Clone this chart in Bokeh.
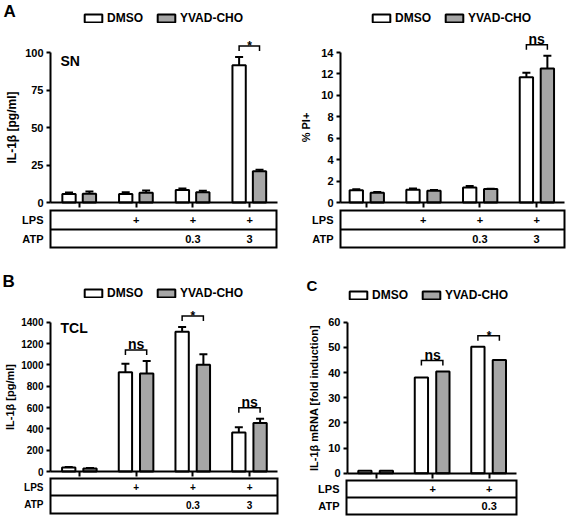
from bokeh.plotting import figure
from bokeh.models import (Range1d, LinearAxis, FixedTicker, Whisker, TeeHead,
                          ColumnDataSource, Legend, LegendItem)
from bokeh.layouts import column, row
from bokeh.embed import file_html
from bokeh.resources import INLINE
from bokeh.core.properties import value

# ---------------- data ----------------
series_names = ["DMSO", "YVAD-CHO"]

# Panel A (left): IL-1beta in supernatant (SN)
lps_A = ["", "+", "+", "+"]
atp_A = ["", "", "0.3", "3"]
sn_dmso = [5.6, 5.6, 8.3, 91.5]
sn_dmso_err = [1.0, 1.3, 1.0, 5.5]
sn_yvad = [5.8, 6.5, 6.8, 20.8]
sn_yvad_err = [1.6, 1.5, 1.0, 1.0]
sn_sig = ["", "", "", "*"]
sn_ticks = [0, 25, 50, 75, 100]

# Panel A (right): % PI+
pi_dmso = [1.15, 1.2, 1.4, 11.7]
pi_dmso_err = [0.08, 0.1, 0.15, 0.4]
pi_yvad = [0.92, 1.1, 1.25, 12.5]
pi_yvad_err = [0.07, 0.06, 0.04, 1.2]
pi_sig = ["", "", "", "ns"]
pi_ticks = [0, 2, 4, 6, 8, 10, 12, 14]

# Panel B: IL-1beta in total cell lysate (TCL)
tcl_dmso = [38, 930, 1310, 365]
tcl_dmso_err = [5, 80, 45, 50]
tcl_yvad = [28, 920, 1000, 455]
tcl_yvad_err = [4, 115, 100, 40]
tcl_sig = ["", "ns", "*", "ns"]
tcl_ticks = [0, 200, 400, 600, 800, 1000, 1200, 1400]

# Panel C: IL-1beta mRNA
lps_C = ["", "+", "+"]
atp_C = ["", "", "0.3"]
mrna_dmso = [1.0, 38.0, 50.2]
mrna_yvad = [1.0, 40.4, 45.0]
mrna_sig = ["", "ns", "*"]
mrna_ticks = [0, 10, 20, 30, 40, 50, 60]

# ---------------- style ----------------
FONT = "Liberation Sans"
S = 1.0
GRAY = "#a6a6a6"


def panel(cfg, dmso, dmso_err, yvad, yvad_err, sig, lps, atp, ticks):
    qx0, qy0, qx1, qy1 = cfg["quad"]
    W = round((qx1 - qx0) * S)
    H = round((qy1 - qy0) * S)
    x1, dx, y0, k = cfg["x1"], cfg["dx"], cfg["y0"], cfg["k"]

    def gx(rx):
        return 1 + (rx - x1) / dx

    def vy(ry):
        return (y0 - ry) / k

    p = figure(width=W, height=H,
               x_range=Range1d(gx(qx0), gx(qx1)),
               y_range=Range1d(vy(qy1), vy(qy0)),
               x_axis_type=None, y_axis_type=None,
               toolbar_location=None, output_backend="svg",
               min_border=0, outline_line_color=None)
    p.background_fill_color = "white"
    p.border_fill_color = "white"
    p.extra_x_ranges = {"px": Range1d(qx0, qx1)}
    p.extra_y_ranges = {"px": Range1d(qy1, qy0)}

    n = len(dmso)
    groups = list(range(1, n + 1))
    ow, og, bw = cfg["offs"]
    xw = [g + ow for g in groups]
    xg = [g + og for g in groups]

    rw = p.vbar(x=xw, top=dmso, bottom=0, width=bw, fill_color="white",
                line_color="black", line_width=2)
    rg = p.vbar(x=xg, top=yvad, bottom=0, width=bw, fill_color=GRAY,
                line_color="black", line_width=2)

    for xs, vals, errs in ((xw, dmso, dmso_err), (xg, yvad, yvad_err)):
        if errs is None:
            continue
        src = ColumnDataSource(dict(x=xs,
                                    lo=[v - e for v, e in zip(vals, errs)],
                                    hi=[v + e for v, e in zip(vals, errs)]))
        p.add_layout(Whisker(source=src, base="x", lower="lo", upper="hi",
                             line_width=2, line_color="black",
                             upper_head=TeeHead(size=8, line_width=2),
                             lower_head=TeeHead(size=8, line_width=2)))

    # significance brackets
    bx, by, st_x, st_y, ns_x, ns_y = [], [], [], [], [], []
    for i, s in enumerate(sig):
        if not s:
            continue
        ew = dmso_err[i] if dmso_err else 0
        eg = yvad_err[i] if yvad_err else 0
        top = max(dmso[i] + ew, yvad[i] + eg)
        yb = top + 11 / k
        leg = 5 / k
        bx.append([xw[i], xw[i], xg[i], xg[i]])
        by.append([yb - leg, yb, yb, yb - leg])
        if s == "*":
            st_x.append(groups[i]); st_y.append(yb)
        else:
            ns_x.append(groups[i]); ns_y.append(yb)
    if bx:
        p.multi_line(xs=bx, ys=by, line_color="black", line_width=1.5,
                     line_join="miter")
    if st_x:
        p.text(x=st_x, y=st_y, text=["*"] * len(st_x), text_align="center",
               text_baseline="alphabetic", y_offset=0,
               text_font=value(FONT), text_font_style="bold",
               text_font_size="12px")
    if ns_x:
        p.text(x=ns_x, y=ns_y, text=["ns"] * len(ns_x), text_align="center",
               text_baseline="alphabetic", y_offset=-6,
               text_font=value(FONT), text_font_style="bold",
               text_font_size="14px")

    # axes
    yax = LinearAxis(fixed_location=gx(cfg["axis_x"]), bounds=(0, ticks[-1]),
                     ticker=FixedTicker(ticks=ticks),
                     axis_line_width=2, major_tick_line_width=2,
                     axis_line_color="black", major_tick_line_color="black",
                     major_tick_out=4, major_tick_in=0,
                     minor_tick_line_color=None,
                     major_label_standoff=3,
                     major_label_text_color="black",
                     major_label_text_font=FONT,
                     major_label_text_font_style="bold",
                     major_label_text_font_size=cfg["tick_size"],
                     axis_label=cfg["ylabel"],
                     axis_label_text_color="black",
                     axis_label_text_font=FONT,
                     axis_label_text_font_style="bold",
                     axis_label_text_font_size=cfg["ylabel_size"],
                     axis_label_standoff=cfg["ylabel_standoff"])
    p.add_layout(yax, "left")
    xax = LinearAxis(fixed_location=0,
                     bounds=(gx(cfg["axis_x"]), gx(cfg["x_end"])),
                     ticker=FixedTicker(ticks=groups),
                     major_label_overrides={g: "" for g in groups},
                     axis_line_width=2, major_tick_line_width=2,
                     axis_line_color="black", major_tick_line_color="black",
                     major_tick_out=5, major_tick_in=0,
                     minor_tick_line_color=None)
    p.add_layout(xax, "below")

    # condition table
    tl, tr, tt, tm, tb = cfg["table"]
    p.quad(left=[tl], right=[tr], top=[tt], bottom=[tb], fill_color=None,
           line_color="black", line_width=2, line_join="miter",
           x_range_name="px", y_range_name="px")
    p.segment(x0=[tl], x1=[tr], y0=[tm], y1=[tm], line_color="black",
              line_width=2, x_range_name="px", y_range_name="px")
    r1 = (tt + tm) / 2
    r2 = (tm + tb) / 2
    p.text(x=[tl - 7, tl - 7], y=[r1, r2], text=["LPS", "ATP"],
           text_align="right", text_baseline="middle",
           text_font=value(FONT), text_font_style="bold",
           text_font_size=cfg["table_size"],
           x_range_name="px", y_range_name="px")
    p.text(x=groups, y=[r1] * n, text=lps, text_align="center",
           text_baseline="middle", text_font=value(FONT),
           text_font_style="bold", text_font_size=cfg["table_size"],
           y_range_name="px")
    p.text(x=groups, y=[r2] * n, text=atp, text_align="center",
           text_baseline="middle", text_font=value(FONT),
           text_font_style="bold", text_font_size=cfg["table_size"],
           y_range_name="px")

    # panel letter and inner label
    if cfg.get("letter"):
        t, lx, ly, fs = cfg["letter"]
        p.text(x=[lx], y=[ly], text=[t], text_align="left",
               text_baseline="top", text_font=value(FONT),
               text_font_style="bold", text_font_size=fs,
               x_range_name="px", y_range_name="px")
    if cfg.get("inner"):
        t, lx, ly = cfg["inner"]
        p.text(x=[lx], y=[ly], text=[t], text_align="left",
               text_baseline="middle", text_font=value(FONT),
               text_font_style="bold", text_font_size="14px",
               x_range_name="px", y_range_name="px")

    # legend
    lx, ly = cfg["legend"]
    leg_x = (lx - qx0) * S
    leg_y = (qy1 - (ly + 10)) * S
    legend = Legend(items=[LegendItem(label=series_names[0], renderers=[rw]),
                           LegendItem(label=series_names[1], renderers=[rg])],
                    orientation="horizontal", location=(leg_x, leg_y),
                    glyph_width=22, glyph_height=10, label_height=10,
                    label_standoff=3, spacing=12, padding=0, margin=0,
                    border_line_color=None, background_fill_alpha=0,
                    label_text_color="black",
                    label_text_font=FONT, label_text_font_style="bold",
                    label_text_font_size="12px")
    p.add_layout(legend)
    return p


cfgA1 = dict(quad=(0, 0, 283, 253), axis_x=50, x_end=277, x1=79, dx=56.7,
             y0=202, k=1.5, offs=(-0.185, 0.175, 0.235),
             table=(50, 276, 210, 229, 247), legend=(82, 15),
             letter=("A", 3, 1, "17px"), inner=("SN", 60, 60),
             ylabel="IL-1β [pg/ml]", ylabel_size="12px", ylabel_standoff=3,
             tick_size="11px", table_size="11px")
cfgA2 = dict(quad=(283, 0, 566, 253), axis_x=340, x_end=564, x1=366, dx=56.7,
             y0=202, k=150 / 14, offs=(-0.18, 0.19, 0.235),
             table=(340, 564, 210, 229, 247), legend=(370, 15),
             ylabel="% PI+", ylabel_size="11px", ylabel_standoff=6,
             tick_size="11px", table_size="11px")
cfgB = dict(quad=(0, 253, 290, 516), axis_x=50, x_end=277, x1=79, dx=56.7,
            y0=471, k=149.3 / 1400, offs=(-0.19, 0.185, 0.235),
            table=(50, 277, 478, 495, 513), legend=(82, 290),
            letter=("B", 2, 271, "17px"), inner=("TCL", 60, 327),
            ylabel="IL-1β [pg/ml]", ylabel_size="11px", ylabel_standoff=2,
            tick_size="10px", table_size="10px")
cfgC = dict(quad=(290, 253, 566, 516), axis_x=347, x_end=516, x1=375.7,
            dx=56.5, y0=472.7, k=151 / 60, offs=(-0.2, 0.18, 0.235),
            table=(346, 516, 480, 497, 514), legend=(347, 292),
            letter=("C", 306, 276, "15px"),
            ylabel="IL-1β mRNA [fold induction]", ylabel_size="11px",
            ylabel_standoff=5, tick_size="11px", table_size="11px")

pA1 = panel(cfgA1, sn_dmso, sn_dmso_err, sn_yvad, sn_yvad_err, sn_sig,
            lps_A, atp_A, sn_ticks)
pA2 = panel(cfgA2, pi_dmso, pi_dmso_err, pi_yvad, pi_yvad_err, pi_sig,
            lps_A, atp_A, pi_ticks)
pB = panel(cfgB, tcl_dmso, tcl_dmso_err, tcl_yvad, tcl_yvad_err, tcl_sig,
           lps_A, atp_A, tcl_ticks)
pC = panel(cfgC, mrna_dmso, None, mrna_yvad, None, mrna_sig,
           lps_C, atp_C, mrna_ticks)

layout = column(row(pA1, pA2, spacing=0), row(pB, pC, spacing=0), spacing=0)

open("out.html", "w").write(file_html(layout, INLINE))
